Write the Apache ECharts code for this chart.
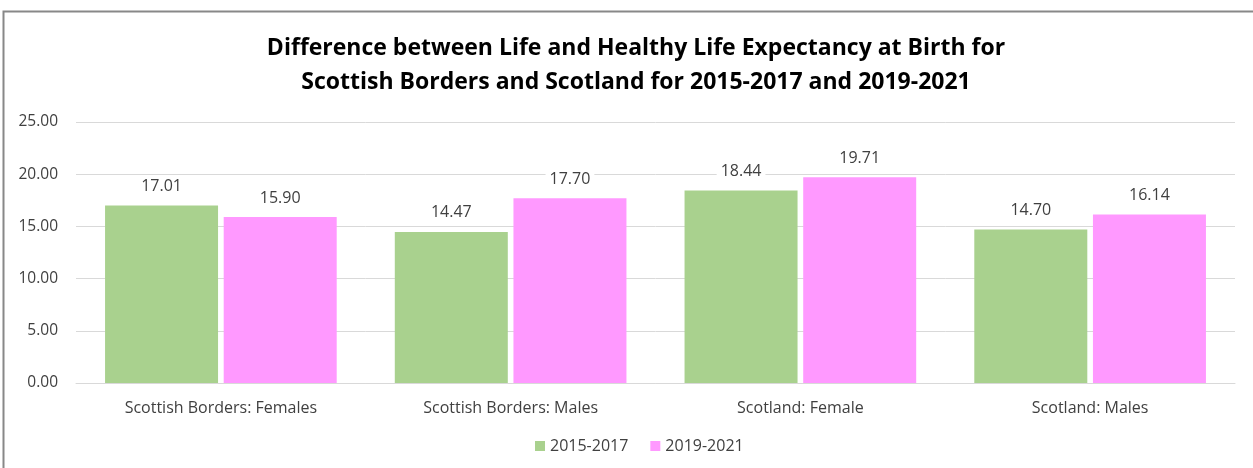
<!DOCTYPE html>
<html><head><meta charset="utf-8">
<script src="https://cdn.jsdelivr.net/npm/echarts@6/dist/echarts.min.js"></script>
<style>html,body{margin:0;padding:0;background:#fff}#c{width:1253px;height:468px}</style>
</head><body><div id="c"></div>
<script>
const categories = ["Scottish Borders: Females","Scottish Borders: Males","Scotland: Female","Scotland: Males"];
const seriesNames = ["2015-2017","2019-2021"];
const values2015 = [17.01,14.47,18.44,14.70];
const values2019 = [15.90,17.70,19.71,16.14];
const titleLines = ["Difference between Life and Healthy Life Expectancy at Birth for","Scottish Borders and Scotland for 2015-2017 and 2019-2021"];

const chart = echarts.init(document.getElementById('c'));
const font = "Open Sans";
const lbl = {show:true,position:'top',distance:9,color:'#404040',fontSize:16,fontFamily:font,
  formatter:p=>p.value.toFixed(2),backgroundColor:'#fff',padding:[2,4]};
chart.setOption({
  animation:false,
  graphic:[{type:'rect',shape:{x:3.5,y:11.5,width:1260,height:470},style:{fill:null,stroke:'#888',lineWidth:2}}],
  title:{text:titleLines.join('\n'),left:631,textAlign:'center',top:26,
    textStyle:{fontSize:23,fontWeight:'bold',fontFamily:font,color:'#000',lineHeight:34}},
  legend:{bottom:9,left:530,itemWidth:10,itemHeight:10,itemGap:22,icon:'rect',
    textStyle:{fontSize:16,fontFamily:font,color:'#404040'}},
  grid:{left:76,right:18,top:122,bottom:85,containLabel:false},
  xAxis:{type:'category',data:categories,axisTick:{show:false},
    axisLine:{lineStyle:{color:'#d9d9d9',width:1}},
    axisLabel:{fontSize:16,fontFamily:font,color:'#404040',margin:17}},
  yAxis:{type:'value',min:0,max:25,interval:5,
    axisLabel:{formatter:v=>v.toFixed(2),fontSize:15.5,fontFamily:font,color:'#404040',margin:18},
    splitLine:{lineStyle:{color:'#d9d9d9',width:1}},axisLine:{show:false}},
  series:[
    {name:seriesNames[0],type:'bar',data:values2015,barWidth:'39%',barGap:'5%',itemStyle:{color:'#A9D18E'},label:lbl},
    {name:seriesNames[1],type:'bar',data:values2019,barWidth:'39%',itemStyle:{color:'#FF99FF'},label:lbl}
  ]
});
</script></body></html>
